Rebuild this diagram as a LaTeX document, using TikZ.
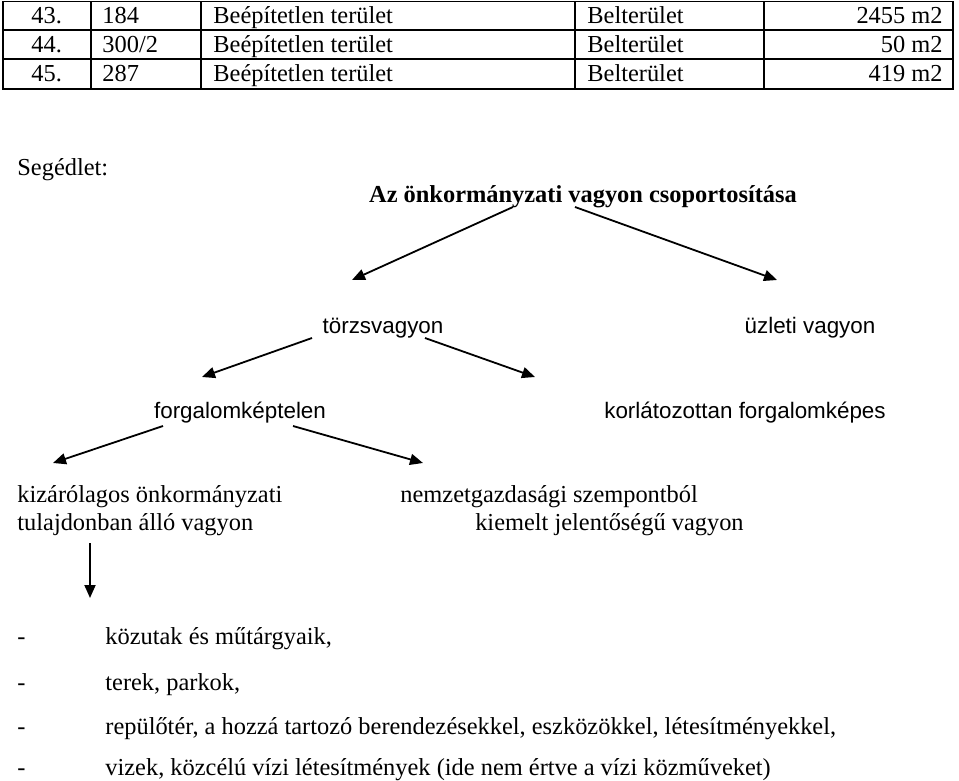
\documentclass[tikz,border=0pt]{standalone}
\usepackage{fontspec}
\setmainfont{Liberation Serif}
\newfontfamily\arialfont{Liberation Sans}
\usetikzlibrary{positioning,arrows.meta}

\begin{document}
\begin{tikzpicture}[
    x=0.5pt,y=-0.5pt,
    txt/.style={inner sep=0pt,font=\fontsize{12.2}{14}\selectfont},
    lft/.style={txt,anchor=base west},
    rgt/.style={txt,anchor=base east},
    cen/.style={txt,anchor=base},
    sans/.style={inner sep=0pt,anchor=base,font=\arialfont\fontsize{11.2}{13}\selectfont},
    grid/.style={line width=0.8pt},
    arr/.style={->,line width=0.9pt},
    >={Triangle[length=6.5pt,width=5.5pt]}
]
\useasboundingbox (0,0) rectangle (959,781);

% table frame
\draw[grid] (3,1.5) rectangle (953,89);
\draw[grid] (3,30) -- (953,30) (3,59) -- (953,59);
\draw[grid] (91,1.5) -- (91,89) (201,1.5) -- (201,89)
            (575,1.5) -- (575,89) (764,1.5) -- (764,89);

% table rows
\node[lft] (n43)  at (31,24)  {43.};
\node[lft] (h43)  at (102,24) {184};
\node[lft] (f43)  at (213,24) {Beépítetlen terület};
\node[lft] (b43)  at (587,24) {Belterület};
\node[rgt] (t43)  at (943,24) {2455 m2};
\node[lft] (n44)  at (31,53)  {44.};
\node[lft] (h44)  at (102,53) {300/2};
\node[lft] (f44)  at (213,53) {Beépítetlen terület};
\node[lft] (b44)  at (587,53) {Belterület};
\node[rgt] (t44)  at (943,53) {50 m2};
\node[lft] (n45)  at (31,82)  {45.};
\node[lft] (h45)  at (102,82) {287};
\node[lft] (f45)  at (213,82) {Beépítetlen terület};
\node[lft] (b45)  at (587,82) {Belterület};
\node[rgt] (t45)  at (943,82) {419 m2};

% heading
\node[lft] (seged) at (17,176) {Segédlet:};
\node[cen,font=\bfseries\fontsize{12.2}{14}\selectfont] (title) at (583,202)
    {Az önkormányzati vagyon csoportosítása};

% tree levels
\node[sans] (torzs)  at (383,333) {törzsvagyon};
\node[sans] (uzleti) at (810,333) {üzleti vagyon};
\node[sans] (fkept)  at (240,418) {forgalomképtelen};
\node[sans] (korl)   at (745,418) {korlátozottan forgalomképes};

\node[lft] (kiz1) at (17,502) {kizárólagos önkormányzati};
\node[lft] (kiz2) at (17,530) {tulajdonban álló vagyon};
\node[lft] (nem1) at (400,502) {nemzetgazdasági szempontból};
\node[rgt] (nem2) at (744,530) {kiemelt jelentőségű vagyon};

% arrow ends
\coordinate (a1s) at (513,207); \coordinate (a1e) at (352,280);
\coordinate (a2s) at (575,207); \coordinate (a2e) at (777,280);
\coordinate (a3s) at (312,338); \coordinate (a3e) at (202,377);
\coordinate (a4s) at (425,338); \coordinate (a4e) at (535,377);
\coordinate (a5s) at (163,426); \coordinate (a5e) at (53,463);
\coordinate (a6s) at (293,426); \coordinate (a6e) at (423,463);
\coordinate (a7s) at (90,543);  \coordinate (a7e) at (90,598);

% arrows
\draw[arr] (a1s) -- (a1e);
\draw[arr] (a2s) -- (a2e);
\draw[arr] (a3s) -- (a3e);
\draw[arr] (a4s) -- (a4e);
\draw[arr] (a5s) -- (a5e);
\draw[arr] (a6s) -- (a6e);
\draw[arr] (a7s) -- (a7e);

% list of items
\node[lft] (d1) at (17,644) {-};
\node[lft] (l1) at (105,644) {közutak és műtárgyaik,};
\node[lft] (d2) at (17,690) {-};
\node[lft] (l2) at (105,690) {terek, parkok,};
\node[lft] (d3) at (17,734) {-};
\node[lft] (l3) at (105,734) {repülőtér, a hozzá tartozó berendezésekkel, eszközökkel, létesítményekkel,};
\node[lft] (d4) at (17,775) {-};
\node[lft] (l4) at (105,775) {vizek, közcélú vízi létesítmények (ide nem értve a vízi közműveket)};

\end{tikzpicture}
\end{document}
